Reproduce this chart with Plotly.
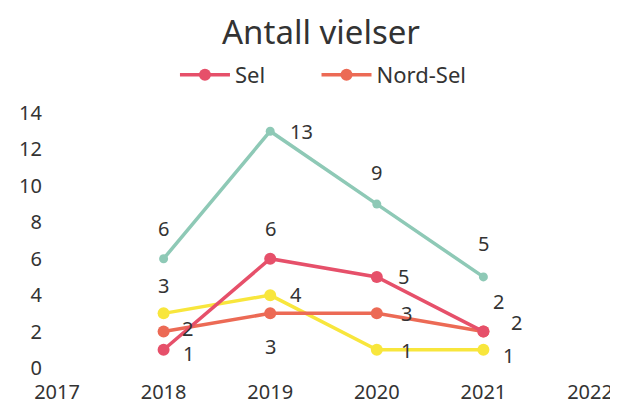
import plotly.graph_objects as go

years = [2018, 2019, 2020, 2021]
tick_years = [2017, 2018, 2019, 2020, 2021, 2022]

serie_gronn = [6, 13, 9, 5]
sel = [1, 6, 5, 2]
nord_sel = [2, 3, 3, 2]
serie_gul = [3, 4, 1, 1]

FONT = "Noto Sans"
LABEL_FONT = dict(family=FONT, size=20, color="#333")

# siden har 8 px body-marg, så figuren gjøres 8 px mindre
W, H = 610, 398

fig = go.Figure()

# (serie, navn, farge, markørstørrelse, etikett-forskyvning i px, forklaring)
series = [
    (serie_gronn, "", "#8ec9b6", 9,
     [(0, 30), (31, 0), (0, 32), (0, 33)], None),
    (serie_gul, "", "#f8e63c", 12,
     [(0, 28), (26, 1), (30, -1), (25, -6)], None),
    (nord_sel, "Nord-Sel", "#ec6a55", 12,
     [(24, 3), (0, -33), (30, 0), (33, 9)], "legend2"),
    (sel, "Sel", "#e6506a", 12,
     [(25, -4), (0, 30), (27, 0), (15, 30)], "legend"),
]

for values, name, color, msize, offsets, legend in series:
    fig.add_trace(go.Scatter(
        x=years, y=values, mode="lines+markers", name=name,
        line=dict(color=color, width=3.5),
        marker=dict(size=msize, color=color),
        showlegend=legend is not None,
        legend=legend or "legend",
    ))
    for xv, yv, (dx, dy) in zip(years, values, offsets):
        fig.add_annotation(
            x=xv, y=yv, text=str(yv), showarrow=False,
            xshift=dx, yshift=dy, font=LABEL_FONT,
        )

legend_style = dict(orientation="h", xanchor="left", yref="container",
                    y=1 - 67 / H, yanchor="middle", font=dict(size=22),
                    itemwidth=50, bgcolor="rgba(0,0,0,0)")

fig.update_layout(
    width=W, height=H,
    paper_bgcolor="white", plot_bgcolor="white",
    font=dict(family=FONT, color="#333"),
    title=dict(text="Antall vielser", x=313 / W, xanchor="center",
               yref="container", y=1 - 24 / H, yanchor="middle",
               font=dict(size=33, color="#333")),
    legend=dict(x=135 / W, **legend_style),
    legend2=dict(x=297 / W, **legend_style),
    margin=dict(l=49, r=28, t=105, b=38),
    xaxis=dict(range=[2017, 2022], tickvals=tick_years, showgrid=False,
               zeroline=False, showline=False, tickfont=dict(size=20),
               ticklabelstandoff=10, automargin=False),
    yaxis=dict(range=[0, 14], dtick=2, showgrid=False, zeroline=False,
               showline=False, tickfont=dict(size=20), ticklabelstandoff=14,
               automargin=False),
)

fig.write_html("out.html")
